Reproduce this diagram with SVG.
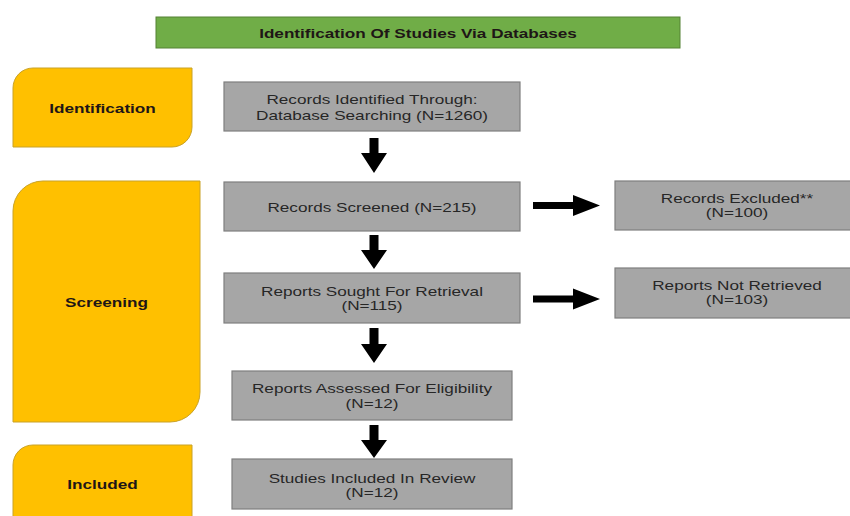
<svg xmlns="http://www.w3.org/2000/svg" width="850" height="516" viewBox="0 0 850 516">
<defs>
<style>
.box{fill:#a6a6a6;stroke:#7f7f7f;stroke-width:1.2}
.phase{fill:#ffc000;stroke:#c9a227;stroke-width:1}
.t{font-family:"Liberation Sans",Arial,sans-serif;font-size:13.5px;fill:#262626;text-anchor:middle}
.b{font-family:"Liberation Sans",Arial,sans-serif;font-size:13.5px;font-weight:bold;fill:#1e1616;text-anchor:middle}
.arr{fill:#000}
</style>
</defs>
<rect width="850" height="516" fill="#ffffff"/>
<g id="header">
<rect x="156" y="17" width="524" height="31" fill="#70ad47" stroke="#548235" stroke-width="1"/>
<text class="b" transform="translate(418,38) scale(1.27,1)">Identification Of Studies Via Databases</text>
</g>
<g id="phase-identification">
<path class="phase" d="M33,68 H192 V127 A20,20 0 0 1 172,147 H13 V88 A20,20 0 0 1 33,68 Z"/>
<text class="b" transform="translate(102.5,113) scale(1.27,1)">Identification</text>
</g>
<g id="phase-screening">
<path class="phase" d="M43,181 H200 V392 A30,30 0 0 1 170,422 H13 V211 A30,30 0 0 1 43,181 Z"/>
<text class="b" transform="translate(106.5,307) scale(1.27,1)">Screening</text>
</g>
<g id="phase-included">
<path class="phase" d="M33,445 H192 V520 H13 V465 A20,20 0 0 1 33,445 Z"/>
<text class="b" transform="translate(102.5,489) scale(1.27,1)">Included</text>
</g>
<g id="records-identified">
<rect class="box" x="224" y="82" width="296" height="49"/>
<text class="t" transform="translate(372,104) scale(1.27,1)">Records Identified Through:</text>
<text class="t" transform="translate(372,120) scale(1.27,1)">Database Searching (N=1260)</text>
</g>
<g id="records-screened">
<rect class="box" x="224" y="182" width="296" height="49"/>
<text class="t" transform="translate(372,212) scale(1.27,1)">Records Screened (N=215)</text>
</g>
<g id="records-excluded">
<rect class="box" x="615" y="181" width="240" height="49"/>
<text class="t" transform="translate(737,203) scale(1.27,1)">Records Excluded**</text>
<text class="t" transform="translate(737,217) scale(1.27,1)">(N=100)</text>
</g>
<g id="reports-sought">
<rect class="box" x="224" y="273" width="296" height="50"/>
<text class="t" transform="translate(372,296) scale(1.27,1)">Reports Sought For Retrieval</text>
<text class="t" transform="translate(372,310) scale(1.27,1)">(N=115)</text>
</g>
<g id="reports-not-retrieved">
<rect class="box" x="615" y="268" width="240" height="50"/>
<text class="t" transform="translate(737,290) scale(1.27,1)">Reports Not Retrieved</text>
<text class="t" transform="translate(737,304) scale(1.27,1)">(N=103)</text>
</g>
<g id="reports-assessed">
<rect class="box" x="232" y="371" width="280" height="49"/>
<text class="t" transform="translate(372,393) scale(1.27,1)">Reports Assessed For Eligibility</text>
<text class="t" transform="translate(372,408) scale(1.27,1)">(N=12)</text>
</g>
<g id="studies-included">
<rect class="box" x="232" y="459" width="280" height="50"/>
<text class="t" transform="translate(372,483) scale(1.27,1)">Studies Included In Review</text>
<text class="t" transform="translate(372,497) scale(1.27,1)">(N=12)</text>
</g>
<g id="connectors">
<polygon class="arr" points="369.5,138 378.5,138 378.5,153 387,153 374,173 361,153 369.5,153"/>
<polygon class="arr" points="369.5,235 378.5,235 378.5,250 387,250 374,269 361,250 369.5,250"/>
<polygon class="arr" points="369.5,328 378.5,328 378.5,344 387,344 374,363 361,344 369.5,344"/>
<polygon class="arr" points="369.5,425 378.5,425 378.5,440 387,440 374,458 361,440 369.5,440"/>
<polygon class="arr" points="533,202 573,202 573,195 600,205.5 573,216 573,209 533,209"/>
<polygon class="arr" points="533,295.5 573,295.5 573,288.5 600,299 573,309.5 573,302.5 533,302.5"/>
</g>
</svg>
